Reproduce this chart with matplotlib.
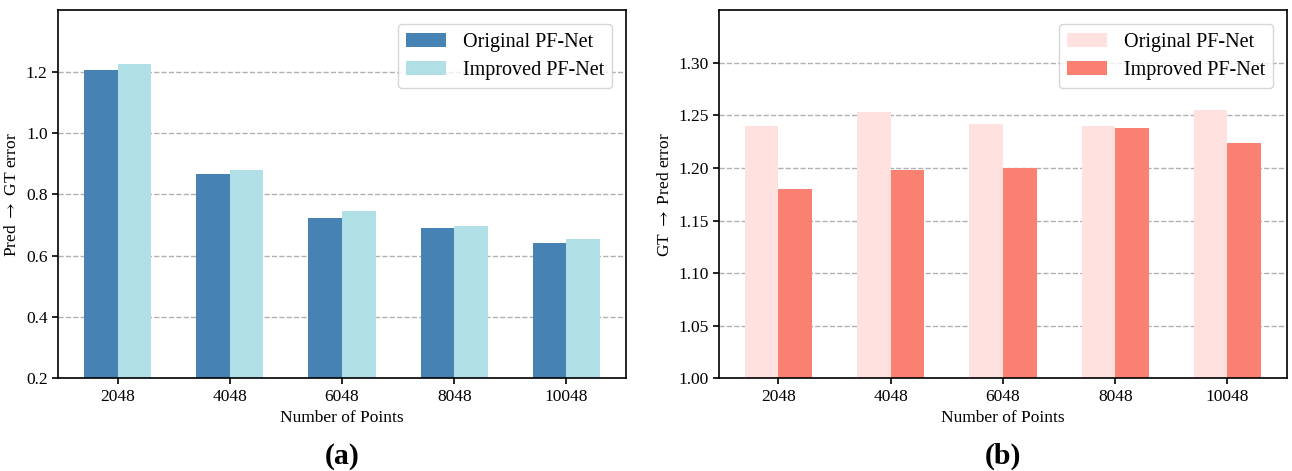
import matplotlib as mpl
import matplotlib.pyplot as plt
import numpy as np

mpl.rcParams['font.family'] = ['Liberation Serif', 'DejaVu Serif']
mpl.rcParams['mathtext.fontset'] = 'stix'

puntos = ['2048', '4048', '6048', '8048', '10048']

# (a) Pred -> GT
a_original = [1.205, 0.865, 0.722, 0.690, 0.640]
a_mejorado = [1.225, 0.880, 0.745, 0.698, 0.653]

# (b) GT -> Pred
b_original = [1.240, 1.253, 1.242, 1.240, 1.255]
b_mejorado = [1.180, 1.198, 1.200, 1.238, 1.224]

fig = plt.figure(figsize=(12.92, 4.71), dpi=100)
ax1 = fig.add_axes([0.0449, 0.197, 0.4396, 0.781])
ax2 = fig.add_axes([0.5565, 0.197, 0.4396, 0.781])

x = np.arange(len(puntos))
w = 0.3


def panel(ax, orig, mej, c1, c2, ylim, yticks, fmt, ylabel, letra):
    ax.bar(x - w / 2, orig, w, color=c1, label='Original PF-Net', zorder=2)
    ax.bar(x + w / 2, mej, w, color=c2, label='Improved PF-Net', zorder=2)
    ax.set_ylim(*ylim)
    ax.set_yticks(yticks)
    ax.set_yticklabels([fmt.format(v) for v in yticks], fontsize=12.5)
    ax.set_xticks(x)
    ax.set_xticklabels(puntos, fontsize=12.5)
    ax.set_xlim(-0.53, 4.53)
    ax.set_xlabel('Number of Points', fontsize=12.5)
    ax.set_ylabel(ylabel, fontsize=12.5)
    ax.yaxis.grid(True, linestyle='--', color='#b0b0b0', linewidth=1, zorder=1)
    ax.set_axisbelow(True)
    for s in ax.spines.values():
        s.set_linewidth(1.2)
    ax.tick_params(length=4, width=1.2)
    leg = ax.legend(loc='upper right', fontsize=14.5, handlelength=2.0,
                    handleheight=0.7, borderpad=0.4, labelspacing=0.45,
                    handletextpad=0.8, borderaxespad=0.7, fancybox=True)
    leg.get_frame().set_edgecolor('#cccccc')
    ax.text(0.5, -0.175, letra, transform=ax.transAxes, ha='center', va='top',
            fontsize=21.5, fontweight='bold')


panel(ax1, a_original, a_mejorado, '#4682b4', '#b0dfe5', (0.2, 1.4),
      [0.2, 0.4, 0.6, 0.8, 1.0, 1.2], '{:.1f}',
      r'Pred $\rightarrow$ GT error', '(a)')
panel(ax2, b_original, b_mejorado, '#ffe2df', '#fa8072', (1.0, 1.35),
      [1.00, 1.05, 1.10, 1.15, 1.20, 1.25, 1.30], '{:.2f}',
      r'GT $\rightarrow$ Pred error', '(b)')

plt.savefig('out.png', dpi=100)
